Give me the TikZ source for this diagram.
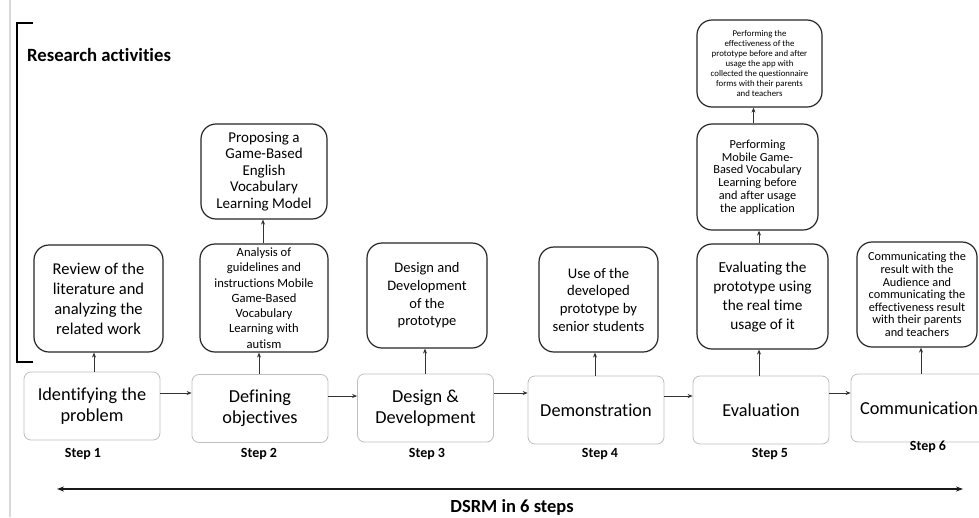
\documentclass[tikz,border=0pt]{standalone}
\usepackage{fontspec}
\setmainfont{Carlito}[Ligatures=NoCommon]
\usetikzlibrary{arrows.meta,calc}
\definecolor{boxgray}{HTML}{BFBFBF}
\definecolor{linegray}{HTML}{D9D9D9}
\definecolor{inkdark}{HTML}{262626}
\begin{document}
\begin{tikzpicture}[x=1pt,y=-1pt,
  resbox/.style={draw=inkdark, line width=1.2pt, rounded corners=15pt, align=center, inner sep=0pt},
  stepbox/.style={draw=boxgray, line width=0.8pt, rounded corners=7pt, align=center, inner sep=0pt,
    minimum width=136pt, minimum height=68pt, font=\fontsize{18.3}{21}\selectfont},
  steplabel/.style={font=\bfseries\fontsize{14}{16}\selectfont, inner sep=0pt},
  arr/.style={-{Stealth[length=5pt,width=4pt]}, line width=0.7pt, draw=black!80},
  bigarr/.style={{Stealth[length=7pt,width=5pt]}-{Stealth[length=7pt,width=5pt]}, line width=2pt, draw=black!90}
]
\useasboundingbox (0,0) rectangle (979,517);
\clip (0,0) rectangle (979,517);
\fill[white] (0,0) rectangle (979,517);

% left page edge and bracket
\draw[linegray, line width=1.5pt] (10,0) -- (10,517);
\draw[black, line width=2pt] (33,22.5) -- (17,22.5) -- (17,362) -- (33,362);
\node[anchor=west, inner sep=0pt, font=\bfseries\fontsize{18.7}{22}\selectfont] (ra) at (27,55) {Research activities};

% step boxes
\node[stepbox] (s1) at (92,406) {Identifying the\\problem};
\node[stepbox] (s2) at (260,408.5) {Defining\\objectives};
\node[stepbox] (s3) at (425.5,408) {Design \&\\Development};
\node[stepbox] (s4) at (596,410) {Demonstration};
\node[stepbox] (s5) at (761,410) {Evaluation};
\node[stepbox] (s6) at (919,408) {Communication};

% step labels
\node[steplabel] (l1) at (83,454) {Step 1};
\node[steplabel] (l2) at (259,454) {Step 2};
\node[steplabel] (l3) at (427,454) {Step 3};
\node[steplabel] (l4) at (600,454) {Step 4};
\node[steplabel] (l5) at (770,454) {Step 5};
\node[steplabel] (l6) at (928,447) {Step 6};

% research boxes
\node[resbox, minimum width=129pt, minimum height=107pt, font=\fontsize{16.5}{20}\selectfont] (r1) at (98.5,298.5)
  {Review of the\\literature and\\analyzing the\\related work};
\node[resbox, minimum width=128pt, minimum height=108pt, font=\fontsize{12.6}{15.3}\selectfont] (r2) at (264,298)
  {Analysis of\\guidelines and\\instructions Mobile\\Game-Based\\Vocabulary\\Learning with\\autism};
\node[resbox, minimum width=126pt, minimum height=95pt, font=\fontsize{15}{16.5}\selectfont] (r2b) at (264,171.5)
  {Proposing a\\Game-Based\\English\\Vocabulary\\Learning Model};
\node[resbox, minimum width=120pt, minimum height=105pt, font=\fontsize{14.5}{17.6}\selectfont] (r3) at (427,295.5)
  {Design and\\Development\\of the\\prototype};
\node[resbox, minimum width=119pt, minimum height=105pt, font=\fontsize{14.7}{17.7}\selectfont] (r4) at (598.5,299.5)
  {Use of the\\developed\\prototype by\\senior students};
\node[resbox, minimum width=131pt, minimum height=105pt, font=\fontsize{15.3}{19}\selectfont] (r5) at (762.5,296.5)
  {Evaluating the\\prototype using\\the real time\\usage of it};
\node[resbox, minimum width=121pt, minimum height=106pt, font=\fontsize{12.3}{12.8}\selectfont] (r5b) at (757.5,177)
  {Performing\\Mobile Game-\\Based Vocabulary\\Learning before\\and after usage\\the application};
\node[resbox, minimum width=125pt, minimum height=87pt, font=\fontsize{8.8}{10}\selectfont] (r5c) at (759.5,63.5)
  {Performing the\\effectiveness of the\\prototype before and after\\usage the app with\\collected the questionnaire\\forms with their parents\\and teachers};
\node[resbox, minimum width=120pt, minimum height=105pt, font=\fontsize{12.3}{12.6}\selectfont] (r6) at (917,294.5)
  {Communicating the\\result with the\\Audience and\\communicating the\\effectiveness result\\with their parents\\and teachers};

% horizontal connectors
\draw[arr] ([yshift=13pt]s1.east) -- ([yshift=13pt]s1.east -| s2.west);
\draw[arr] ([yshift=12.5pt]s2.east) -- ([yshift=12.5pt]s2.east -| s3.west);
\draw[arr] ([yshift=15pt]s3.east) -- ([yshift=15pt]s3.east -| s4.west);
\draw[arr] ([yshift=14pt]s4.east) -- ([yshift=14pt]s4.east -| s5.west);
\draw[arr] ([yshift=17pt]s5.east) -- ([yshift=17pt]s5.east -| s6.west);

% vertical connectors
\draw[arr] ([xshift=2pt]s1.north) -- ([xshift=2pt]s1.north |- r1.south);
\draw[arr] ([xshift=-1pt]s2.north) -- ([xshift=-1pt]s2.north |- r2.south);
\draw[arr] ([xshift=-1pt]r2.north) -- ([xshift=-1pt]r2.north |- r2b.south);
\draw[arr] ([xshift=-0.5pt]s3.north) -- ([xshift=-0.5pt]s3.north |- r3.south);
\draw[arr] ([xshift=-1pt]s4.north) -- ([xshift=-1pt]s4.north |- r4.south);
\draw[arr] ([xshift=-2pt]s5.north) -- ([xshift=-2pt]s5.north |- r5.south);
\draw[arr] ([xshift=-3.5pt]r5.north) -- ([xshift=-3.5pt]r5.north |- r5b.south);
\draw[arr] ([xshift=-4pt]r5b.north) -- ([xshift=-4pt]r5b.north |- r5c.south);
\draw[arr] ([xshift=2pt]s6.north) -- ([xshift=2pt]s6.north |- r6.south);

% DSRM span
\coordinate (dl) at (57,489);
\coordinate (dr) at (963,489);
\draw[bigarr] (dl) -- (dr);
\node[font=\bfseries\fontsize{18.5}{22}\selectfont, inner sep=0pt] (dsrm) at (512,507) {DSRM in 6 steps};
\end{tikzpicture}
\end{document}
